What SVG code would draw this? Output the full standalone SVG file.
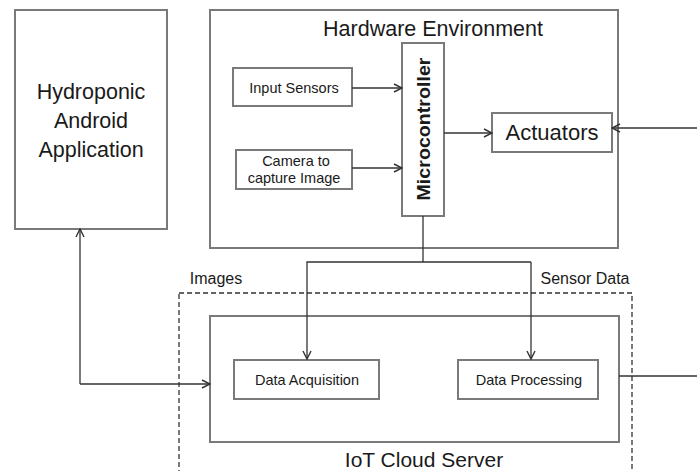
<svg xmlns="http://www.w3.org/2000/svg" width="697" height="471" viewBox="0 0 697 471">
  <defs>
    <marker id="arrow" viewBox="0 0 10 10" refX="9" refY="5" markerWidth="10" markerHeight="10" markerUnits="userSpaceOnUse" orient="auto">
      <path d="M1,1 L9,5 L1,9" fill="none" stroke="#333" stroke-width="1.4"/>
    </marker>
  </defs>
  <style>
    .box { fill: #fff; stroke: #7a7a7a; stroke-width: 2; }
    .frame { fill: none; stroke: #7a7a7a; stroke-width: 2; }
    .dash { fill: none; stroke: #333; stroke-width: 1.3; stroke-dasharray: 5 3; }
    .wire { fill: none; stroke: #333; stroke-width: 1.3; }
    text { font-family: "Liberation Sans", Arial, sans-serif; fill: #1a1a1a; text-anchor: middle; }
    .big { font-size: 21.5px; }
    .mid { font-size: 16px; }
    .small { font-size: 14.5px; }
  </style>

  <rect width="697" height="471" fill="#fff"/>

  <!-- IoT cloud server boundary (dashed) -->
  <g id="cloud-boundary">
    <rect class="dash" x="179" y="293" width="453" height="190"/>
  </g>

  <g id="android-app">
    <rect class="box" x="15" y="10" width="152" height="219"/>
    <text class="big" x="91" y="99">Hydroponic</text>
    <text class="big" x="91" y="128">Android</text>
    <text class="big" x="91" y="157">Application</text>
  </g>

  <g id="hardware-env">
    <rect class="frame" x="210" y="10" width="408" height="238"/>
    <text class="big" x="433" y="36">Hardware Environment</text>
  </g>

  <g id="input-sensors">
    <rect class="box" x="233" y="68" width="119" height="38"/>
    <text class="small" x="294" y="93">Input Sensors</text>
  </g>

  <g id="camera">
    <rect class="box" x="236" y="150" width="116" height="39"/>
    <text class="small" x="296" y="166">Camera to</text>
    <text class="small" x="294" y="183">capture Image</text>
  </g>

  <g id="microcontroller">
    <rect class="box" x="402" y="43" width="42" height="173"/>
    <text x="0" y="0" font-size="19" font-weight="bold" textLength="143" lengthAdjust="spacingAndGlyphs" transform="translate(430,129) rotate(-90)">Microcontroller</text>
  </g>

  <g id="actuators">
    <rect class="box" x="492" y="113" width="120" height="39"/>
    <text x="552" y="140" font-size="22">Actuators</text>
  </g>

  <g id="iot-server">
    <rect class="frame" x="210" y="316" width="409" height="126"/>
    <text x="424" y="467" font-size="21">IoT Cloud Server</text>
  </g>

  <g id="data-acquisition">
    <rect class="box" x="234" y="360" width="145" height="39"/>
    <text class="small" x="307" y="385">Data Acquisition</text>
  </g>

  <g id="data-processing">
    <rect class="box" x="458" y="360" width="140" height="39"/>
    <text class="small" x="529" y="385">Data Processing</text>
  </g>

  <g id="connectors">
    <line class="wire" x1="352" y1="88" x2="402" y2="88" marker-end="url(#arrow)"/>
    <line class="wire" x1="352" y1="168" x2="402" y2="168" marker-end="url(#arrow)"/>
    <line class="wire" x1="444" y1="133" x2="492" y2="133" marker-end="url(#arrow)"/>
    <line class="wire" x1="697" y1="128" x2="612" y2="128" marker-end="url(#arrow)"/>
    <polyline class="wire" points="423,216 423,262"/>
    <polyline class="wire" points="531,262 307,262 307,359" marker-end="url(#arrow)"/>
    <polyline class="wire" points="531,262 531,359" marker-end="url(#arrow)"/>
    <polyline class="wire" points="80,384 80,229" marker-end="url(#arrow)"/>
    <polyline class="wire" points="80,384 210,384" marker-end="url(#arrow)"/>
    <line class="wire" x1="619" y1="376" x2="697" y2="376"/>
  </g>

  <g id="labels">
    <text class="mid" x="216" y="284">Images</text>
    <text class="mid" x="585" y="284">Sensor Data</text>
  </g>
</svg>
